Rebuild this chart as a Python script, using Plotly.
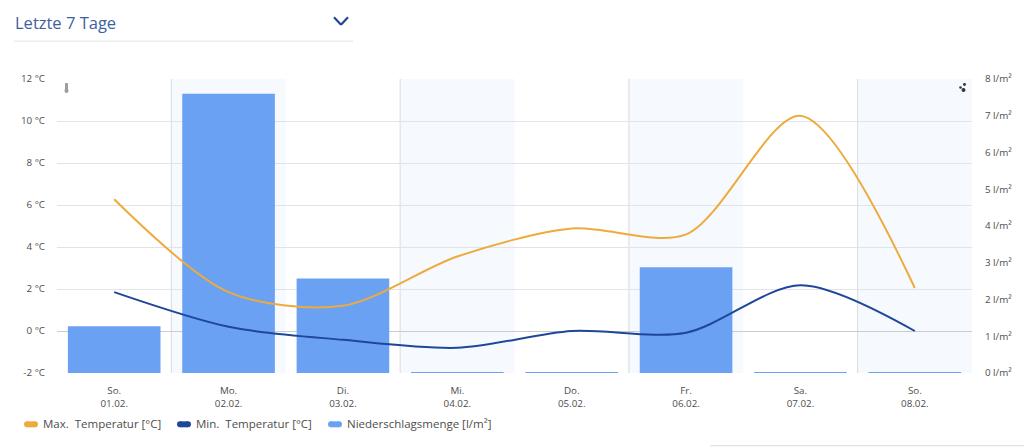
import plotly.graph_objects as go

days = ["So.", "Mo.", "Di.", "Mi.", "Do.", "Fr.", "Sa.", "So."]
dates = ["01.02.", "02.02.", "03.02.", "04.02.", "05.02.", "06.02.", "07.02.", "08.02."]
max_temp = [6.27, 1.85, 1.2, 3.55, 4.88, 4.6, 10.25, 2.05]
min_temp = [1.85, 0.2, -0.42, -0.8, 0.0, -0.08, 2.18, 0.0]
precip = [1.27, 7.6, 2.57, 0.008, 0.008, 2.88, 0.008, 0.008]
temp_ticks = [-2, 0, 2, 4, 6, 8, 10, 12]
rain_ticks = [0, 1, 2, 3, 4, 5, 6, 7, 8]
legend_names = ["Max.\u00a0 Temperatur [°C]", "Min.\u00a0 Temperatur [°C]", "Niederschlagsmenge [l/m²]"]
ORANGE, NAVY, BLUE = "#eeab3c", "#1f4799", "#6ba1f3"
TXT = "#4d4d4d"
FONT = "Open Sans"

W, H = 1024, 447
L, R, T, B = 57, 972, 78.5, 373.5


def px(x):
    return (x - L) / (R - L)


def py(y):
    return (B - y) / (B - T)


labels = [f"{d}<br>{t}" for d, t in zip(days, dates)]
pos = list(range(len(days)))

fig = go.Figure()
fig.add_bar(x=pos, y=precip, marker_color=BLUE, marker_line_width=0, width=0.81,
            yaxis="y", name=legend_names[2])
fig.add_scatter(x=pos, y=max_temp, mode="lines", line=dict(color=ORANGE, width=2, shape="spline", smoothing=0.85),
                yaxis="y2", name=legend_names[0])
fig.add_scatter(x=pos, y=min_temp, mode="lines", line=dict(color=NAVY, width=2, shape="spline", smoothing=0.85),
                yaxis="y2", name=legend_names[1])

shapes = []
for i in (1, 3, 5, 7):
    shapes.append(dict(type="rect", xref="x", yref="paper", x0=i - 0.5, x1=i + 0.5, y0=0, y1=1,
                       fillcolor="#f6faff", line_width=0, layer="below"))
    shapes.append(dict(type="line", xref="x", yref="paper", x0=i - 0.5, x1=i - 0.5, y0=0, y1=1,
                       line=dict(color="#d8dbe2", width=1), layer="below"))


def pshape(kind, x0, y0, x1, y1, **kw):
    shapes.append(dict(type=kind, xref="paper", yref="paper", x0=px(x0), x1=px(x1), y0=py(y0), y1=py(y1), **kw))


# header rule and chevron
pshape("line", 14, 40.5, 353, 40.5, line=dict(color="#dfe3e8", width=1))
pshape("line", 334, 16.5, 341, 24, line=dict(color=NAVY, width=2.2))
pshape("line", 341, 24, 348, 16.5, line=dict(color=NAVY, width=2.2))
# legend pills with rounded ends
for x0, c in ((24, ORANGE), (177, NAVY), (328, BLUE)):
    pshape("rect", x0 + 3, 422, x0 + 11, 428, fillcolor=c, line_width=0)
    pshape("circle", x0, 422, x0 + 6, 428, fillcolor=c, line_width=0)
    pshape("circle", x0 + 8, 422, x0 + 14, 428, fillcolor=c, line_width=0)
# thermometer icon
pshape("rect", 65.5, 83, 67.5, 90, fillcolor="#9a9da1", line=dict(color="#9a9da1", width=1))
pshape("circle", 64.5, 88, 68.5, 92.5, fillcolor="#9a9da1", line_width=0)
# rain icon dots
for cx, cy, r in ((964.5, 84, 1.5), (960.5, 87, 1.3), (963.5, 89.5, 2)):
    pshape("circle", cx - r, cy - r, cx + r, cy + r, fillcolor="#33373d", line_width=0)
# sliver of page image at the bottom edge
pshape("line", 710, 446.5, 1024, 446.5, line=dict(color="#d5dbe6", width=1))

annotations = [
    dict(text="Letzte 7 Tage", x=px(13), y=py(21.5), xref="paper", yref="paper", xanchor="left", yanchor="middle",
         showarrow=False, font=dict(family=FONT, size=16.5, color="#3d5f9e")),
]
for x0, name in zip((41, 194, 345), legend_names):
    annotations.append(dict(text=name, x=px(x0), y=py(424.5), xref="paper", yref="paper", xanchor="left",
                            yanchor="middle", showarrow=False, font=dict(family=FONT, size=11.5, color=TXT)))

fig.update_layout(
    width=W, height=H, showlegend=False, plot_bgcolor="rgba(0,0,0,0)", paper_bgcolor="white",
    margin=dict(l=L, r=W - R, t=T, b=H - B, pad=0),
    font=dict(family=FONT, size=10, color=TXT),
    shapes=shapes, annotations=annotations, bargap=0.19,
    xaxis=dict(range=[-0.5, 7.5], tickmode="array", tickvals=pos, ticktext=labels, showgrid=False,
               ticks="outside", ticklen=8, tickcolor="rgba(0,0,0,0)", zeroline=False,
               showline=False, tickfont=dict(size=9.8, family=FONT, color=TXT)),
    yaxis=dict(side="right", range=[0, 8], tickmode="array", tickvals=rain_ticks,
               ticktext=[f"{v} l/m²" for v in rain_ticks], showgrid=False, zeroline=False,
               ticks="outside", ticklen=10, tickcolor="rgba(0,0,0,0)", tickfont=dict(size=9.8, family=FONT, color=TXT)),
    yaxis2=dict(side="left", overlaying="y", range=[-2, 12], tickmode="array", tickvals=temp_ticks,
                ticktext=[f"{v} °C" for v in temp_ticks], showgrid=True,
                gridcolor="#e1e3e7", gridwidth=1, zeroline=True, zerolinecolor="#c9ccd2", zerolinewidth=1,
                ticks="outside", ticklen=9, tickcolor="rgba(0,0,0,0)", tickfont=dict(size=9.8, family=FONT, color=TXT)),
)
fig.write_html("out.html", config=dict(displayModeBar=False), post_script="document.body.style.margin='0';")
